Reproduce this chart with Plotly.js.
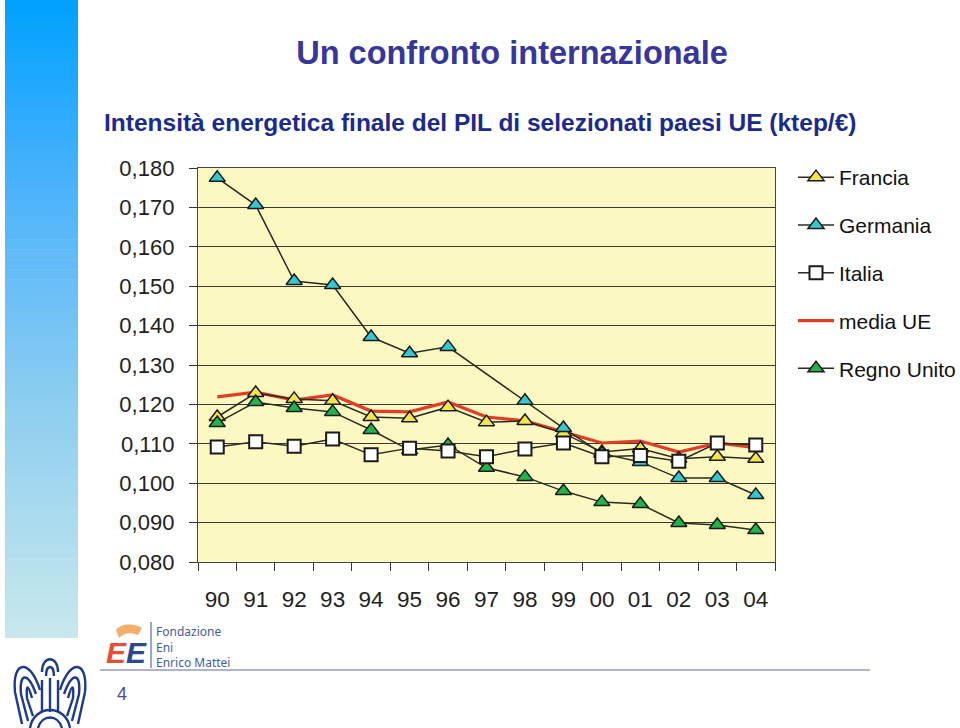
<!DOCTYPE html>
<html>
<head>
<meta charset="utf-8">
<script src="https://cdn.plot.ly/plotly-3.0.1.min.js"></script>
<style>html,body{margin:0;padding:0;background:#fff;}#chart{width:960px;height:728px;}</style>
</head>
<body>
<div id="chart"></div>
<script>
// ---- data ----
const years = ['90','91','92','93','94','95','96','97','98','99','00','01','02','03','04'];
const francia    = [0.1168,0.1229,0.1214,0.1209,0.1168,0.1165,0.1193,0.1155,0.1158,0.1127,0.1079,0.1088,0.1062,0.1067,0.1062];
const germania   = [0.1775,0.1706,0.1513,0.1503,0.1371,0.1330,0.1346,null,0.1209,0.1140,0.1075,0.1054,0.1013,0.1013,0.0970];
const italia     = [0.1092,0.1105,0.1094,0.1112,0.1072,0.1089,0.1082,0.1067,0.1087,0.1102,0.1067,0.1070,0.1056,0.1102,0.1097];
const mediaUE    = [0.1219,0.1231,0.1211,0.1224,0.1183,0.1181,0.1206,0.1168,0.1158,0.1130,0.1102,0.1107,0.1079,0.1102,0.1090];
const regnoUnito = [0.1153,0.1206,0.1191,0.1181,0.1135,0.1084,0.1097,0.1039,0.1016,0.0980,0.0952,0.0947,0.0899,0.0894,0.0881];
const seriesNames = ['Francia','Germania','Italia','media UE','Regno Unito'];
const mainTitle = 'Un confronto internazionale';
const subTitle = 'Intensità energetica finale del PIL di selezionati paesi UE (ktep/€)';

// ---- layout geometry (pixels) ----
const L = 198, R = 775, T = 168, B = 562;
const X = px => (px - L) / (R - L);
const Y = py => (B - py) / (B - T);

const FONT = 'Liberation Sans, Arial, sans-serif';
const lineCol = '#2b2b20';

function tri(name, y, color, rank) {
  return {
    type: 'scatter', mode: 'lines+markers', name: name, x: years, y: y,
    connectgaps: true, legendgroup: name, legendrank: rank,
    line: {color: lineCol, width: 1.5},
    marker: {symbol: 'triangle-up', size: 14, color: color, line: {color: '#1a1a1a', width: 1.5}}
  };
}

const traces = [
  {type: 'scatter', mode: 'lines', name: seriesNames[3], x: years, y: mediaUE,
   legendgroup: 'ue', legendrank: 4, line: {color: '#e23c26', width: 3.2}},
  tri(seriesNames[0], francia, '#f2e64a', 1),
  tri(seriesNames[1], germania, '#35c8d0', 2),
  tri(seriesNames[4], regnoUnito, '#22b34a', 5),
  {type: 'scatter', mode: 'lines+markers', name: seriesNames[2], x: years, y: italia,
   legendgroup: 'it', legendrank: 3,
   line: {color: lineCol, width: 1.5},
   marker: {symbol: 'square', size: 13, color: '#ffffff', line: {color: '#1a1a1a', width: 2}}}
];

// ---- decorative shapes ----
const shapes = [];
// left gradient bar
const stops = [[0,[0,160,255]],[200,[80,180,250]],[400,[140,205,240]],[638,[200,232,236]]];
function colAt(py){
  for(let i=0;i<stops.length-1;i++){
    const [a,ca]=stops[i],[b,cb]=stops[i+1];
    if(py>=a && py<=b){const t=(py-a)/(b-a);
      return 'rgb('+ca.map((v,k)=>Math.round(v+(cb[k]-v)*t)).join(',')+')';}
  }
  return 'rgb(200,232,236)';
}
const N = 64;
for(let i=0;i<N;i++){
  const y0 = i*638/N, y1 = (i+1)*638/N + 0.6;
  shapes.push({type:'rect', xref:'paper', yref:'paper', x0:X(5), x1:X(78), y0:Y(y0), y1:Y(Math.min(y1,638)),
    fillcolor: colAt((y0+y1)/2), line:{width:0}, layer:'below'});
}
// bottom rule
shapes.push({type:'line', xref:'paper', yref:'paper', x0:X(100), x1:X(870), y0:Y(670), y1:Y(670), line:{color:'#5a6aa8', width:1.2}});
// FEEM vertical bar
shapes.push({type:'line', xref:'paper', yref:'paper', x0:X(151), x1:X(151), y0:Y(622), y1:Y(668), line:{color:'#5a6aa8', width:1.2}});
function C(d){
  return d.map(c=>{
    if(c[0]==='M'||c[0]==='L') return c[0]+X(c[1]).toFixed(4)+','+Y(c[2]).toFixed(4);
    if(c[0]==='C') return 'C'+X(c[1]).toFixed(4)+','+Y(c[2]).toFixed(4)+' '+X(c[3]).toFixed(4)+','+Y(c[4]).toFixed(4)+' '+X(c[5]).toFixed(4)+','+Y(c[6]).toFixed(4);
    if(c[0]==='Z') return 'Z';
  }).join(' ');
}
// FEEM orange flame mark
shapes.push({type:'path', xref:'paper', yref:'paper', fillcolor:'rgba(240,160,80,0.85)', line:{width:0},
  path:C([['M',116,630],['C',122,622,136,624,142,628],['L',138,635],['C',130,632,124,633,119,638],['Z']])});
// eagle logo (rough outline)
const eagleCol = '#1e3a8c';
const eaglePaths = [
  [['M',42,672],['C',42,655,58,655,58,672]],
  [['M',46,676],['C',46,664,54,664,54,676]],
  [['M',40,690],['C',30,658,12,660,15,692],['L',22,724]],
  [['M',36,694],['C',28,672,19,672,21,694],['L',28,721]],
  [['M',32,698],['C',28,684,26,684,27,698],['L',33,716]],
  [['M',60,690],['C',70,658,88,660,85,692],['L',78,724]],
  [['M',64,694],['C',72,672,81,672,79,694],['L',72,721]],
  [['M',68,698],['C',72,684,74,684,73,698],['L',67,716]],
  [['M',42,680],['L',42,712]],[['M',50,678],['L',50,712]],[['M',58,680],['L',58,712]],
  [['M',30,728],['C',34,704,66,704,70,728]],
  [['M',38,728],['C',42,714,58,714,62,728]]
];
eaglePaths.forEach(d=>shapes.push({type:'path', xref:'paper', yref:'paper', path:C(d), line:{color:eagleCol, width:2.4}}));

// ---- annotations ----
const ann = [];
function txt(text, px, py, font, opts){
  ann.push(Object.assign({text:text, x:X(px), y:Y(py), xref:'paper', yref:'paper', showarrow:false,
    xanchor:'left', yanchor:'middle', font:font}, opts||{}));
}
txt('<b>'+subTitle+'</b>', 102, 122, {family:FONT, size:24.5, color:'#1a2a8e'});
txt('Fondazione<br>Eni<br>Enrico Mattei', 154, 646.5, {family:'Noto Sans, Open Sans, sans-serif', size:12, color:'#4a5aa6'}, {align:'left'});
txt('4', 115, 694, {family:FONT, size:18, color:'#4a4a9e'});
txt('<b><i><span style="color:#e2503a">E</span><span style="color:#2a4a8c">E</span></i></b>', 104, 652, {family:FONT, size:30, color:'#e2503a'});

const layout = {
  width: 960, height: 728,
  paper_bgcolor: '#ffffff', plot_bgcolor: '#fcf8c2',
  margin: {l: L, r: 960 - R, t: T, b: 728 - B, pad: 0, autoexpand: false},
  separators: ',.',
  font: {family: FONT, color: '#222'},
  title: {text: '<b>' + mainTitle + '</b>', x: 512/960, xanchor: 'center', xref: 'container',
          y: 1 - 53/728, yanchor: 'middle', yref: 'container',
          font: {family: FONT, size: 32.5, color: '#36369c'}},
  showlegend: true,
  legend: {x: X(793), y: Y(157), xanchor: 'left', yanchor: 'top', bgcolor: 'rgba(0,0,0,0)',
           font: {family: FONT, size: 21, color: '#111'}, tracegroupgap: 17.5, itemwidth: 36, traceorder: 'grouped'},
  xaxis: {type: 'category', range: [-0.5, 14.5], tickson: 'boundaries', ticks: 'outside', ticklen: 8,
          tickcolor: '#333', showline: true, mirror: true, linecolor: '#444', linewidth: 1.2,
          showgrid: false, ticklabelstandoff: 17,
          tickfont: {family: FONT, size: 22.5, color: '#222'}},
  yaxis: {range: [0.08, 0.18], dtick: 0.01, tickformat: '.3f', ticks: 'outside', ticklen: 8,
          tickcolor: '#333', showline: true, mirror: true, linecolor: '#444', linewidth: 1.2,
          showgrid: true, gridcolor: '#3a3a30', gridwidth: 1, zeroline: false, ticklabelstandoff: 10,
          tickfont: {family: FONT, size: 22, color: '#222'}},
  shapes: shapes,
  annotations: ann
};

Plotly.newPlot('chart', traces, layout, {displayModeBar: false, staticPlot: true});
</script>
</body>
</html>
